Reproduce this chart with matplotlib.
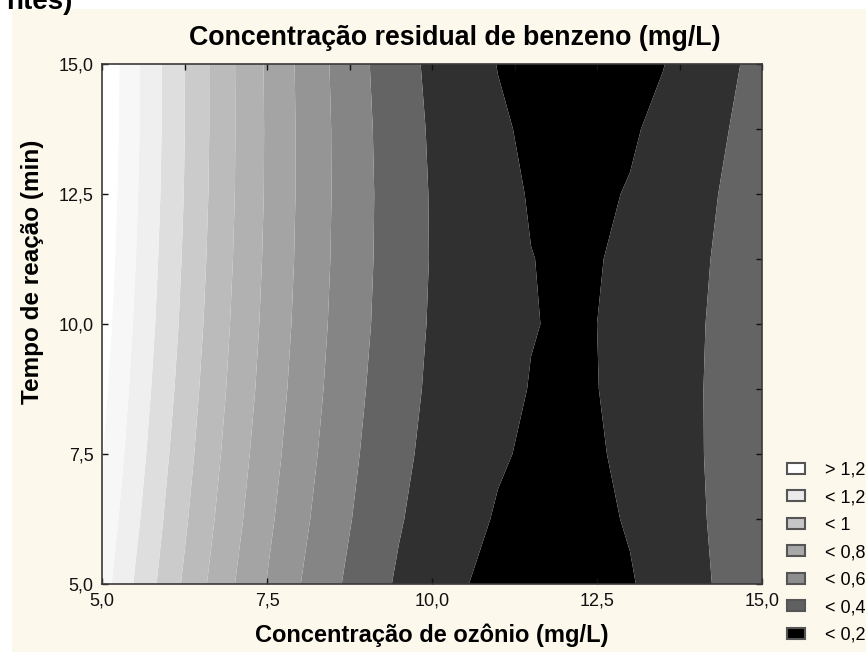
import numpy as np
import matplotlib
matplotlib.use("Agg")
import matplotlib.pyplot as plt
from matplotlib.patches import Patch, Rectangle

plt.rcParams['font.family'] = ['Liberation Sans', 'DejaVu Sans']

# grid: ozone concentration (mg/L) x reaction time (min)
ozonio = [5.0, 5.5, 6.0, 6.5, 7.0, 7.5, 8.0, 8.5, 9.0, 9.5, 10.0,
          10.5, 11.0, 11.5, 12.0, 12.5, 13.0, 13.5, 14.0, 14.5, 15.0]
tempo = [5.0, 6.25, 7.5, 8.75, 10.0, 11.25, 12.5, 13.75, 15.0]

# residual benzene (mg/L), one row per reaction time
benzeno_t5 = [1.145, 0.992, 0.851, 0.721, 0.603, 0.497, 0.402, 0.319, 0.247, 0.187, 0.139,
              0.103, 0.078, 0.064, 0.063, 0.073, 0.094, 0.128, 0.173, 0.229, 0.298]
benzeno_t625 = [1.177, 1.023, 0.880, 0.749, 0.630, 0.522, 0.426, 0.342, 0.269, 0.208, 0.158,
                0.120, 0.094, 0.080, 0.077, 0.086, 0.106, 0.138, 0.182, 0.237, 0.296]
benzeno_t75 = [1.205, 1.049, 0.905, 0.773, 0.652, 0.543, 0.446, 0.360, 0.286, 0.224, 0.173,
               0.134, 0.107, 0.091, 0.087, 0.094, 0.114, 0.144, 0.187, 0.241, 0.296]
benzeno_t875 = [1.228, 1.071, 0.926, 0.793, 0.671, 0.561, 0.462, 0.375, 0.300, 0.236, 0.184,
                0.144, 0.115, 0.098, 0.093, 0.099, 0.117, 0.147, 0.188, 0.241, 0.296]
benzeno_t10 = [1.248, 1.090, 0.943, 0.809, 0.685, 0.574, 0.474, 0.386, 0.310, 0.245, 0.191,
               0.150, 0.120, 0.102, 0.095, 0.100, 0.117, 0.145, 0.185, 0.237, 0.297]
benzeno_t1125 = [1.263, 1.104, 0.956, 0.820, 0.696, 0.583, 0.482, 0.393, 0.315, 0.249, 0.195,
                 0.152, 0.121, 0.101, 0.093, 0.097, 0.112, 0.139, 0.178, 0.228, 0.290]
benzeno_t125 = [1.275, 1.114, 0.966, 0.828, 0.703, 0.589, 0.486, 0.396, 0.317, 0.249, 0.194,
                0.150, 0.117, 0.096, 0.087, 0.090, 0.104, 0.130, 0.167, 0.216, 0.277]
benzeno_t1375 = [1.282, 1.121, 0.971, 0.832, 0.705, 0.590, 0.486, 0.395, 0.314, 0.246, 0.189,
                 0.143, 0.110, 0.088, 0.077, 0.079, 0.092, 0.116, 0.152, 0.200, 0.259]
benzeno_t15 = [1.286, 1.123, 0.972, 0.832, 0.704, 0.588, 0.483, 0.390, 0.308, 0.238, 0.180,
               0.133, 0.098, 0.075, 0.063, 0.063, 0.075, 0.098, 0.133, 0.180, 0.238]

niveis = [-1.0, 0.1, 0.2, 0.3, 0.4, 0.5, 0.6, 0.7, 0.8, 0.9, 1.0, 1.1, 1.2, 5.0]
cores = ['#000000', '#303030', '#646464', '#858585', '#959595', '#a4a4a4', '#b1b1b1',
         '#bbbbbb', '#cbcbcb', '#dedede', '#efefef', '#f7f7f7', '#ffffff']

legenda_txt = ['> 1,2', '< 1,2', '< 1', '< 0,8', '< 0,6', '< 0,4', '< 0,2']
legenda_cor = ['#ffffff', '#ebebeb', '#c6c6c6', '#a8a8a8', '#8e8e8e', '#606060', '#000000']

ticks = [5.0, 7.5, 10.0, 12.5, 15.0]
tick_txt = ['5,0', '7,5', '10,0', '12,5', '15,0']

z = np.array([benzeno_t5, benzeno_t625, benzeno_t75, benzeno_t875, benzeno_t10,
              benzeno_t1125, benzeno_t125, benzeno_t1375, benzeno_t15])
X, Y = np.meshgrid(ozonio, tempo)

fig = plt.figure(figsize=(8.66, 6.52), dpi=100, facecolor='white')
fig.add_artist(Rectangle((12 / 866, 0), 1, 1 - 9 / 652, transform=fig.transFigure,
                         facecolor='#fdf8ec', edgecolor='none', zorder=-5))
fig.text(72 / 866, 1 - 9 / 652, 'ntes)', ha='right', va='baseline',
         fontsize=20, fontweight='bold')

ax = fig.add_axes([102 / 866, 1 - 584 / 652, 660 / 866, 520 / 652])
ax.contourf(X, Y, z, levels=niveis, colors=cores, antialiased=True)

ax.set_xlim(5, 15)
ax.set_ylim(5, 15)
ax.set_xticks(ticks)
ax.set_xticklabels(tick_txt)
ax.set_yticks(ticks)
ax.set_yticklabels(tick_txt)
ax.set_xticks(np.arange(5, 15.01, 1.25), minor=True)
ax.set_yticks(np.arange(5, 15.01, 1.25), minor=True)
ax.tick_params(which='major', direction='in', length=4, width=1, labelsize=13,
               colors='#111111', pad=6, top=True, right=True,
               labeltop=False, labelright=False)
ax.tick_params(which='minor', direction='in', length=4, width=1, bottom=False,
               left=False, top=True, right=True, color='#111111')
for s in ax.spines.values():
    s.set_color('#3a3a3a')
    s.set_linewidth(1.2)

ax.set_xlabel('Concentração de ozônio (mg/L)', fontsize=17, fontweight='bold')
ax.xaxis.set_label_coords(0.5, (584 - 635) / 520)
ax.xaxis.label.set_va('center')
ax.set_ylabel('Tempo de reação (min)', fontsize=17.5, fontweight='bold')
ax.yaxis.set_label_coords((33 - 102) / 660, (584 - 272) / 520)
ax.yaxis.label.set_va('center')

fig.text(455 / 866, 1 - 38 / 652, 'Concentração residual de benzeno (mg/L)',
         ha='center', va='center', fontsize=19.3, fontweight='bold')

handles = [Patch(facecolor=c, edgecolor='#555555', linewidth=1.5) for c in legenda_cor]
fig.legend(handles, legenda_txt, loc='lower left', bbox_to_anchor=(787 / 866, 0.013),
           frameon=False, fontsize=13, handlelength=1.0, handleheight=0.55,
           handletextpad=1.1, labelspacing=0.58, borderpad=0, borderaxespad=0)

fig.savefig('out.png', dpi=100, facecolor=fig.get_facecolor())
